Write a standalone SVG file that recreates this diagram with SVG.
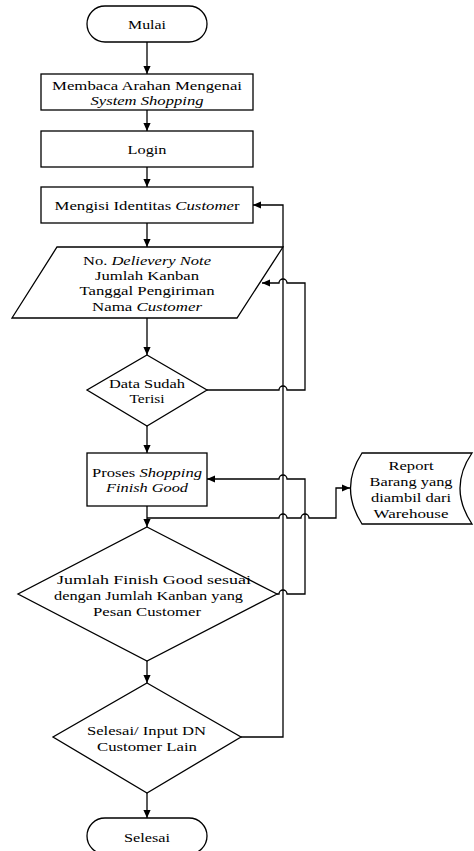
<svg xmlns="http://www.w3.org/2000/svg" width="474" height="851" viewBox="0 0 474 851">
<style>
.s{fill:#fff;stroke:#000;stroke-width:1.3}
.c{fill:none;stroke:#000;stroke-width:1.3}
text{font-family:"Liberation Serif","Times New Roman",serif;font-size:13.5px;fill:#000;text-anchor:middle}
.i{font-style:italic}
</style>
<defs>
<marker id="a" viewBox="0 0 10 10" refX="10" refY="5" markerWidth="8" markerHeight="8" markerUnits="userSpaceOnUse" orient="auto">
<path d="M0,0.5 L10,5 L0,9.5 z" fill="#000"/>
</marker>
</defs>
<rect width="474" height="851" fill="#fff"/>
<g id="connectors" class="c">
<path d="M147,42 V74" marker-end="url(#a)"/>
<path d="M147,110 V131" marker-end="url(#a)"/>
<path d="M147,167 V187" marker-end="url(#a)"/>
<path d="M147,223 V247" marker-end="url(#a)"/>
<path d="M147,318 V355" marker-end="url(#a)"/>
<path d="M147,426 V453" marker-end="url(#a)"/>
<path d="M147,506 V527" marker-end="url(#a)"/>
<path d="M147,661 V683" marker-end="url(#a)"/>
<path d="M147,793 V818" marker-end="url(#a)"/>
<path d="M207,390 H279 A4,4 0 0 1 287,390 H305 V283 H287 A4,4 0 0 0 279,283 H262" marker-end="url(#a)"/>
<path d="M277,594 H279 A4,4 0 0 1 287,594 H305 V479 H287 A4,4 0 0 0 279,479 H207" marker-end="url(#a)"/>
<path d="M147,518 H279 A4,4 0 0 1 287,518 H301 A4,4 0 0 1 309,518 H336 V488 H350" marker-end="url(#a)"/>
<path d="M241,737 H283 V205 H253" marker-end="url(#a)"/>
</g>
<g id="mulai">
<rect class="s" x="87" y="6" width="120" height="36" rx="18"/>
<text x="147" y="28.5" textLength="38" lengthAdjust="spacingAndGlyphs">Mulai</text>
</g>
<g id="membaca">
<rect class="s" x="41" y="74" width="212" height="36"/>
<text x="147" y="89.5" textLength="190" lengthAdjust="spacingAndGlyphs">Membaca Arahan Mengenai</text>
<text x="147" y="104.5" class="i" textLength="113" lengthAdjust="spacingAndGlyphs">System Shopping</text>
</g>
<g id="login">
<rect class="s" x="41" y="131" width="212" height="36"/>
<text x="147" y="153.5" textLength="39" lengthAdjust="spacingAndGlyphs">Login</text>
</g>
<g id="mengisi">
<rect class="s" x="41" y="187" width="212" height="36"/>
<text x="147" y="209.5" textLength="185" lengthAdjust="spacingAndGlyphs">Mengisi Identitas <tspan class="i">Custome</tspan>r</text>
</g>
<g id="input">
<polygon class="s" points="57,247 283,247 237,318 12,318"/>
<text x="147" y="264.5" textLength="128" lengthAdjust="spacingAndGlyphs">No. <tspan class="i">Delievery Note</tspan></text>
<text x="147" y="280" textLength="104" lengthAdjust="spacingAndGlyphs">Jumlah Kanban</text>
<text x="147" y="295" textLength="135" lengthAdjust="spacingAndGlyphs">Tanggal Pengiriman</text>
<text x="147" y="311" textLength="110" lengthAdjust="spacingAndGlyphs">Nama <tspan class="i">Customer</tspan></text>
</g>
<g id="cek-data">
<polygon class="s" points="147,355 207,390 147,426 87,390"/>
<text x="147" y="387.5" textLength="76" lengthAdjust="spacingAndGlyphs">Data Sudah</text>
<text x="147" y="402.5" textLength="35" lengthAdjust="spacingAndGlyphs">Terisi</text>
</g>
<g id="proses">
<rect class="s" x="87" y="453" width="120" height="53"/>
<text x="147" y="476.5" textLength="110" lengthAdjust="spacingAndGlyphs">Proses <tspan class="i">Shopping</tspan></text>
<text x="147" y="491.5" class="i" textLength="82" lengthAdjust="spacingAndGlyphs">Finish Good</text>
</g>
<g id="report">
<path class="s" d="M362,453 H472 Q448,488 472,524 H362 Q339,488 362,453 Z"/>
<text x="411" y="469.5" textLength="45" lengthAdjust="spacingAndGlyphs">Report</text>
<text x="411" y="485.5" textLength="83" lengthAdjust="spacingAndGlyphs">Barang yang</text>
<text x="411" y="501.5" textLength="80" lengthAdjust="spacingAndGlyphs">diambil dari</text>
<text x="411" y="517.5" textLength="75" lengthAdjust="spacingAndGlyphs">Warehouse</text>
</g>
<g id="cek-jumlah">
<polygon class="s" points="147,527 277,594 147,661 18,594"/>
<text x="154" y="583.5" textLength="194" lengthAdjust="spacingAndGlyphs">Jumlah Finish Good sesuai</text>
<text x="148.5" y="599.5" textLength="189" lengthAdjust="spacingAndGlyphs">dengan Jumlah Kanban yang</text>
<text x="147" y="615.5" textLength="108" lengthAdjust="spacingAndGlyphs">Pesan Customer</text>
</g>
<g id="cek-selesai">
<polygon class="s" points="147,683 241,737 147,793 53,737"/>
<text x="146.5" y="734.5" textLength="119" lengthAdjust="spacingAndGlyphs">Selesai/ Input DN</text>
<text x="147" y="750.5" textLength="100" lengthAdjust="spacingAndGlyphs">Customer Lain</text>
</g>
<g id="selesai">
<rect class="s" x="87" y="818" width="120" height="36" rx="18"/>
<text x="147" y="841.5" textLength="46" lengthAdjust="spacingAndGlyphs">Selesai</text>
</g>
</svg>
